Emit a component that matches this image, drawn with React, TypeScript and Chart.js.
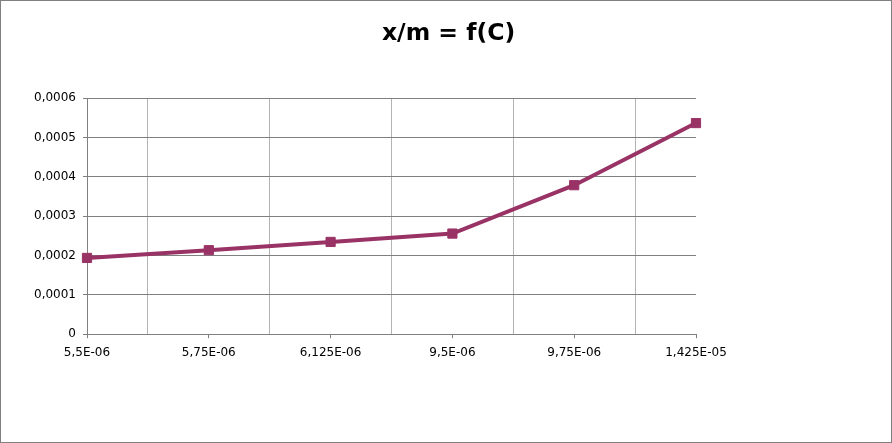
import React, { useEffect, useRef } from "react";
import { Chart, registerables } from "chart.js";

Chart.register(...registerables);

const categories = ["5,5E-06", "5,75E-06", "6,125E-06", "9,5E-06", "9,75E-06", "1,425E-05"];
const xmValues = [0.000194, 0.0002136, 0.0002347, 0.000256, 0.000379, 0.000537];
const yTicks = [0, 0.0001, 0.0002, 0.0003, 0.0004, 0.0005, 0.0006];
const titleText = "x/m = f(C)";

const FONT = "'DejaVu Sans', 'Liberation Sans', sans-serif";
const LINE = "#993366";

export default function App() {
  const ref = useRef<HTMLCanvasElement | null>(null);

  useEffect(() => {
    if (!ref.current) return;
    const chart = new Chart(ref.current, {
      type: "line",
      data: {
        labels: categories,
        datasets: [
          {
            label: "x/m",
            data: xmValues,
            xAxisID: "x",
            yAxisID: "y",
            borderColor: LINE,
            backgroundColor: LINE,
            borderWidth: 4,
            pointStyle: "rect",
            pointRadius: 6.5,
            pointBorderWidth: 1,
            pointBorderColor: LINE,
            pointBackgroundColor: LINE,
            tension: 0,
          },
        ],
      },
      options: {
        animation: false,
        responsive: true,
        maintainAspectRatio: false,
        layout: { padding: { left: 5, right: 0, top: 0, bottom: 75.4 } },
        plugins: {
          legend: { display: false },
          tooltip: { enabled: false },
          title: {
            display: true,
            text: titleText,
            color: "#000",
            font: { family: FONT, size: 23.5, weight: "bold" },
            padding: { top: 19, bottom: 50.1 },
          },
        },
        scales: {
          x2: {
            axis: "x",
            type: "category",
            labels: categories,
            position: "bottom",
            weight: 0,
            offset: false,
            grid: { drawOnChartArea: false, drawTicks: true, tickLength: 4, color: "#808080" },
            border: { display: true, color: "#808080", width: 1 },
            ticks: { display: false },
          },
          x: {
            type: "category",
            position: "bottom",
            weight: 1,
            offset: false,
            grid: { offset: true, drawTicks: false, color: "#b3b3b3", lineWidth: 1 },
            border: { display: false },
            ticks: {
              color: "#000",
              font: { family: FONT, size: 12 },
              padding: 7,
              maxRotation: 0,
              autoSkip: false,
            },
          },
          y: {
            type: "linear",
            position: "left",
            min: 0,
            max: 0.0006,
            afterBuildTicks: (scale: any) => {
              scale.ticks = yTicks.map((v) => ({ value: v }));
            },
            afterFit: (scale: any) => {
              scale.width = 81;
            },
            grid: { color: "#808080", drawTicks: true, tickLength: 4, lineWidth: 1 },
            border: { display: true, color: "#808080", width: 1 },
            ticks: {
              color: "#000",
              font: { family: FONT, size: 12 },
              padding: 7,
              callback: (v: any) => (Number(v) === 0 ? "0" : Number(v).toFixed(4).replace(".", ",")),
            },
          },
          y2: {
            axis: "y",
            type: "linear",
            position: "right",
            display: true,
            grid: { display: false, drawTicks: false },
            border: { display: false },
            ticks: { display: false },
            afterFit: (scale: any) => {
              scale.width = 195;
            },
          },
        },
      },
    });
    return () => chart.destroy();
  }, []);

  return (
    <div
      style={{
        position: "fixed",
        left: 0,
        top: 0,
        width: 892,
        height: 443,
        boxSizing: "border-box",
        border: "1px solid #808080",
        background: "#fff",
      }}
    >
      <div style={{ position: "relative", width: 890, height: 441 }}>
        <canvas ref={ref} />
      </div>
    </div>
  );
}
